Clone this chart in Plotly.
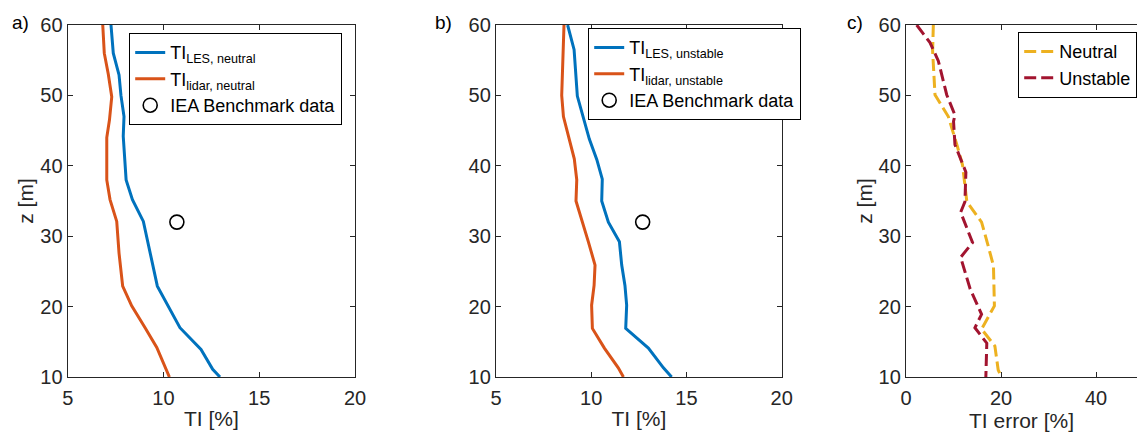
import plotly.graph_objects as go

# ---------------- data ----------------
# Panel a (neutral)
z_les_neu = [60, 56, 52.9, 50, 47, 44.2, 38, 35.2, 32.1, 27.6, 22.9, 17, 13.9, 11.1, 10]
ti_les_neu = [7.26, 7.38, 7.68, 7.78, 7.94, 7.90, 8.05, 8.38, 8.95, 9.30, 9.68, 10.86, 11.96, 12.57, 12.95]
z_lid_neu = [60, 56, 53, 49.8, 46.5, 44, 38, 35.2, 32.1, 27.6, 22.9, 20.1, 17, 14.2, 10]
ti_lid_neu = [6.83, 6.91, 7.12, 7.30, 7.18, 7.04, 7.04, 7.21, 7.56, 7.68, 7.87, 8.34, 9.04, 9.65, 10.31]
iea_neu_ti = [10.7]
iea_neu_z = [32]

# Panel b (unstable)
z_les_uns = [60, 56.5, 49.9, 43.8, 40.9, 38.1, 35.0, 32.0, 29.2, 25.9, 23.0, 20.2, 16.9, 14.1, 11.3, 10]
ti_les_uns = [8.76, 9.10, 9.27, 9.90, 10.29, 10.58, 10.55, 10.90, 11.48, 11.60, 11.77, 11.86, 11.81, 13.0, 13.79, 14.22]
z_lid_uns = [60, 50, 47, 41, 38, 35, 29.2, 25.9, 23, 20.2, 16.9, 14.1, 11.3, 10]
ti_lid_uns = [8.57, 8.45, 8.54, 9.11, 9.24, 9.20, 9.85, 10.20, 10.15, 10.02, 10.06, 10.69, 11.42, 11.69]
iea_uns_ti = [12.7]
iea_uns_z = [32]

# Panel c (TI error)
z_err_neu = [60, 56.3, 50.1, 47, 43, 40.1, 34.9, 32, 29.1, 25.8, 20.1, 16.8, 14.4, 11, 10]
err_neu = [5.75, 5.6, 6.1, 8.9, 10.7, 11.9, 12.8, 15.9, 17.1, 18.4, 18.6, 15.9, 18.7, 19.4, 20.1]
z_err_uns = [60, 57.5, 54.9, 50.1, 47.2, 46.3, 43, 39.1, 34.9, 33.4, 29.1, 27, 22.5, 18.9, 17, 14.8, 10]
err_uns = [2.25, 5.05, 6.8, 8.56, 10.3, 10.0, 10.3, 12.6, 12.4, 11.5, 14.0, 11.5, 13.5, 15.9, 14.5, 17.0, 16.8]

y_ticks = [10, 20, 30, 40, 50, 60]
x_ticks_ab = [5, 10, 15, 20]
x_ticks_c = [0, 20, 40]

# ---------------- style ----------------
BLUE = "#0072BD"
ORANGE = "#D95319"
YELLOW = "#EDB120"
DARKRED = "#A2142F"
AX = "#262626"
FONT = "Liberation Sans, Arial, Helvetica, sans-serif"
W, H = 1137, 434

def px_x(p):
    return p / W

def px_y(p):
    return 1 - p / H

fig = go.Figure()

# panel a
fig.add_trace(go.Scatter(x=ti_les_neu, y=z_les_neu, mode="lines", line=dict(color=BLUE, width=3),
                         name="TI<sub>LES, neutral</sub>", xaxis="x", yaxis="y", legend="legend"))
fig.add_trace(go.Scatter(x=ti_lid_neu, y=z_lid_neu, mode="lines", line=dict(color=ORANGE, width=3),
                         name="TI<sub>lidar, neutral</sub>", xaxis="x", yaxis="y", legend="legend"))
fig.add_trace(go.Scatter(x=iea_neu_ti, y=iea_neu_z, mode="markers",
                         marker=dict(symbol="circle-open", size=14, color="black", line=dict(width=1.6)),
                         name="IEA Benchmark data", xaxis="x", yaxis="y", legend="legend"))
# panel b
fig.add_trace(go.Scatter(x=ti_les_uns, y=z_les_uns, mode="lines", line=dict(color=BLUE, width=3),
                         name="TI<sub>LES, unstable</sub>", xaxis="x2", yaxis="y2", legend="legend2"))
fig.add_trace(go.Scatter(x=ti_lid_uns, y=z_lid_uns, mode="lines", line=dict(color=ORANGE, width=3),
                         name="TI<sub>lidar, unstable</sub>", xaxis="x2", yaxis="y2", legend="legend2"))
fig.add_trace(go.Scatter(x=iea_uns_ti, y=iea_uns_z, mode="markers",
                         marker=dict(symbol="circle-open", size=14, color="black", line=dict(width=1.6)),
                         name="IEA Benchmark data", xaxis="x2", yaxis="y2", legend="legend2"))
# panel c
fig.add_trace(go.Scatter(x=err_neu, y=z_err_neu, mode="lines", line=dict(color=YELLOW, width=3, dash="12px,5px"),
                         name="Neutral", xaxis="x3", yaxis="y3", legend="legend3"))
fig.add_trace(go.Scatter(x=err_uns, y=z_err_uns, mode="lines", line=dict(color=DARKRED, width=3, dash="12px,5px"),
                         name="Unstable", xaxis="x3", yaxis="y3", legend="legend3"))

y_dom = [px_y(377), px_y(25)]

def xaxis(dom, rng, ticks, anchor):
    return dict(domain=dom, range=rng, tickvals=ticks, ticks="inside", ticklen=5, tickcolor=AX,
                showline=True, linecolor=AX, linewidth=1.3, mirror="allticks", showgrid=False,
                zeroline=False, anchor=anchor, automargin=False, ticklabelstandoff=3,
                tickfont=dict(size=20, color=AX, family=FONT),
                title=dict(font=dict(size=21, color=AX, family=FONT), standoff=3))

def yaxis(rng, anchor, mirror="allticks"):
    return dict(domain=y_dom, range=rng, tickvals=y_ticks, ticks="inside", ticklen=5, tickcolor=AX,
                showline=True, linecolor=AX, linewidth=1.3, mirror=mirror, showgrid=False,
                zeroline=False, anchor=anchor, automargin=False, ticklabelstandoff=0,
                tickfont=dict(size=20, color=AX, family=FONT),
                title=dict(font=dict(size=21, color=AX, family=FONT), standoff=0))

xa = xaxis([px_x(67.7), px_x(355)], [5, 20], x_ticks_ab, "y")
xa["title"]["text"] = "TI [%]"
ya = yaxis([10, 60], "x")
ya["title"]["text"] = "z [m]"
xb = xaxis([px_x(496), px_x(781.7)], [5, 20], x_ticks_ab, "y2")
xb["title"]["text"] = "TI [%]"
yb = yaxis([10, 60], "x2")
xc = xaxis([px_x(906), 1.0], [0, 48.6], x_ticks_c, "y3")
xc["title"]["text"] = "TI error [%]"
yc = yaxis([10, 60], "x3", mirror=False)
yc["title"]["text"] = "z [m]"

leg_common = dict(bgcolor="white", bordercolor="black", borderwidth=1.2,
                  font=dict(size=18, color="black", family=FONT), xanchor="left", yanchor="top",
                  xref="paper", yref="paper", itemclick=False)

fig.update_layout(
    width=W, height=H, margin=dict(l=0, r=0, t=0, b=0, autoexpand=False),
    paper_bgcolor="white", plot_bgcolor="white",
    font=dict(family=FONT, color=AX),
    xaxis=xa, yaxis=ya, xaxis2=xb, yaxis2=yb, xaxis3=xc, yaxis3=yc,
    legend=dict(x=px_x(129), y=px_y(33), **leg_common),
    legend2=dict(x=px_x(588), y=px_y(28), **leg_common),
    legend3=dict(x=px_x(1018), y=px_y(32), **leg_common),
    showlegend=True,
)

for txt, xp in [("a)", 10), ("b)", 433), ("c)", 845)]:
    fig.add_annotation(text=txt, x=px_x(xp), y=px_y(22), xref="paper", yref="paper",
                       xanchor="left", yanchor="middle", showarrow=False,
                       font=dict(size=19, color="black", family=FONT))

fig.write_html("out.html", config={"displayModeBar": False},
               post_script="document.body.style.margin='0';document.body.style.padding='0';"
                           "document.body.style.overflow='hidden';")
